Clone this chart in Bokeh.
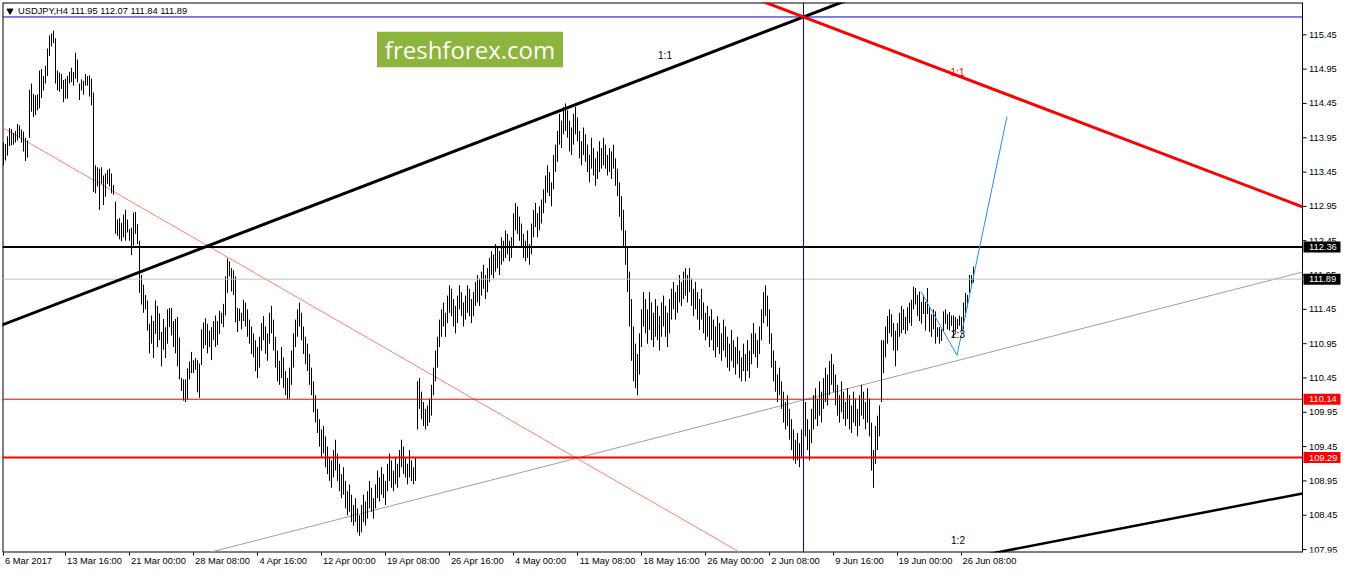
from bokeh.plotting import figure
from bokeh.models import Range1d, LinearAxis, FixedTicker
from bokeh.core.properties import value
from bokeh.embed import file_html
from bokeh.resources import INLINE

# ---------------- data ----------------
symbol = "USDJPY,H4"
last_ohlc = ["111.95", "112.07", "111.84", "111.89"]

bar_high = [
    113.88,113.86,113.97,114.09,114.08,114.02,114.05,114.15,114.13,114.07,
    114.04,113.95,113.91,114.65,114.74,114.59,114.57,114.58,114.93,114.95,
    114.85,115.00,115.25,115.44,115.47,115.51,115.40,114.93,114.90,114.88,
    114.79,114.81,114.85,114.91,114.97,114.91,115.19,115.09,114.74,114.80,
    114.78,114.88,114.85,114.86,114.81,114.61,113.55,113.52,113.50,113.52,
    113.40,113.43,113.48,113.50,113.43,113.26,113.02,112.76,112.78,112.71,
    112.83,
    112.90,112.76,112.62,112.64,112.86,112.87,112.69,112.45,111.95,111.81,
    111.66,111.58,111.24,111.36,111.28,111.58,111.50,111.39,111.12,111.31,
    111.19,111.45,111.47,111.47,111.28,111.31,111.34,111.04,110.45,110.43,
    110.43,110.59,110.69,110.83,110.71,110.74,110.71,110.66,111.16,111.26,
    111.32,111.24,111.14,111.19,111.28,111.36,111.28,111.43,111.40,111.53,
    111.93,112.19,112.15,112.05,112.02,111.93,111.47,111.46,111.40,111.59,
    111.55,111.45,111.30,111.20,111.10,111.00,110.90,111.05,111.25,111.35,
    111.20,111.10,111.40,111.50,111.30,111.05,110.85,110.70,110.90,110.75,
    110.55,110.45,110.60,110.85,111.10,111.30,111.45,111.55,111.40,111.20,
    111.05,110.95,110.80,110.60,110.40,110.20,110.00,109.85,109.70,109.75,
    109.60,109.45,109.30,109.25,109.40,109.55,109.35,109.20,109.05,109.15,
    108.95,108.80,108.90,108.75,108.60,108.70,108.55,108.45,108.60,108.75,
    108.65,108.80,108.95,108.85,108.70,108.90,109.10,109.00,109.15,109.05,
    108.95,109.20,109.35,109.25,109.10,109.30,109.20,109.40,109.55,109.45,
    109.30,109.20,109.40,109.25,109.15,109.30,110.40,110.45,110.25,110.10,
    110.00,110.05,110.15,110.35,110.60,110.85,111.05,111.30,111.45,111.55,
    111.40,111.65,111.80,111.75,111.60,111.50,111.65,111.80,111.70,111.55,
    111.65,111.80,111.75,111.60,111.70,111.85,111.95,111.90,112.00,112.10,
    111.95,112.05,112.20,112.30,112.25,112.40,112.35,112.30,112.50,112.45,
    112.60,112.55,112.45,112.50,112.85,113.00,112.95,112.80,112.70,112.55,
    112.45,112.60,112.40,112.70,112.90,113.00,112.85,112.95,113.05,113.20,
    113.40,113.55,113.45,113.30,113.70,113.85,114.05,114.30,114.20,114.40,
    114.45,114.35,114.20,114.10,114.30,114.40,114.25,114.05,113.90,114.10,
    114.00,113.85,113.70,113.95,113.80,113.65,113.75,113.90,113.80,113.95,
    113.85,113.70,113.80,113.75,113.85,113.65,113.50,113.30,113.10,112.90,
    112.60,112.35,112.00,111.60,111.20,110.95,110.80,111.10,111.45,111.70,
    111.60,111.45,111.70,111.55,111.40,111.60,111.50,111.35,111.55,111.65,
    111.50,111.40,111.60,111.75,111.85,111.70,111.80,111.95,111.85,112.00,
    112.05,111.95,112.05,111.90,111.75,111.85,111.70,111.60,111.75,111.55,
    111.40,111.50,111.35,111.45,111.30,111.20,111.35,111.25,111.10,111.30,
    111.20,111.05,110.95,111.15,111.00,110.90,111.05,110.85,110.75,110.95,
    110.80,111.00,110.85,111.10,111.25,111.10,111.00,111.20,111.45,111.70,
    111.80,111.65,111.45,111.10,110.85,110.70,110.50,110.60,110.40,110.25,
    110.10,110.20,110.00,109.85,109.70,109.55,109.65,109.50,109.70,109.95,
    110.10,109.85,109.70,110.00,110.20,110.30,110.15,110.40,110.25,110.45,
    110.60,110.50,110.70,110.80,110.65,110.50,110.35,110.20,110.40,110.25,
    110.10,110.30,110.20,110.05,110.25,110.15,110.00,110.20,110.35,110.25,
    110.10,110.30,110.15,109.80,109.40,109.75,109.90,110.05,111.00,
    111.00,111.20,111.35,111.45,111.38,111.25,111.14,111.25,111.40,111.50,
    111.45,111.34,111.48,111.55,111.59,111.78,111.76,111.66,111.71,111.56,
    111.66,111.56,111.76,111.48,111.38,111.45,111.42,111.19,111.19,111.16,
    111.42,111.45,111.38,111.41,111.36,111.36,111.34,111.31,111.36,111.34,
    111.55,111.69,111.66,111.95,111.95,112.07,
]

bar_low = [
    113.55,113.62,113.69,113.83,113.84,113.85,113.88,113.91,113.95,113.88,
    113.75,113.61,113.66,113.95,114.33,114.25,114.28,114.35,114.38,114.53,
    114.64,114.74,114.85,115.14,115.28,115.33,114.74,114.64,114.62,114.66,
    114.47,114.52,114.52,114.74,114.76,114.71,114.81,114.76,114.50,114.64,
    114.58,114.71,114.71,114.55,114.42,113.16,113.14,113.24,112.90,113.28,
    112.97,113.09,113.28,113.24,113.14,113.12,112.55,112.52,112.47,112.44,
    112.50,
    112.45,112.57,112.45,112.24,112.38,112.55,112.40,111.69,111.52,111.40,
    111.45,111.14,110.81,110.95,110.74,111.09,110.90,111.00,110.62,110.86,
    110.74,110.95,111.19,111.07,110.90,110.81,110.62,110.43,110.26,110.12,
    110.10,110.14,110.43,110.52,110.52,110.57,110.24,110.16,110.64,110.88,
    110.93,110.81,110.90,110.71,111.00,110.90,110.93,111.09,111.24,111.19,
    111.36,111.69,111.93,111.71,111.66,111.26,111.12,111.28,111.16,111.28,
    111.20,111.05,110.95,110.80,110.75,110.55,110.45,110.60,110.85,111.00,
    110.80,110.70,110.95,111.10,110.85,110.60,110.40,110.35,110.45,110.30,
    110.20,110.14,110.15,110.35,110.60,110.90,111.05,111.20,111.00,110.80,
    110.65,110.55,110.35,110.20,109.95,109.80,109.65,109.45,109.30,109.35,
    109.15,109.05,108.95,108.85,109.00,109.10,108.95,108.80,108.70,108.75,
    108.55,108.45,108.50,108.35,108.30,108.35,108.20,108.15,108.20,108.35,
    108.30,108.40,108.55,108.50,108.40,108.55,108.70,108.65,108.75,108.70,
    108.60,108.80,108.95,108.85,108.80,108.90,108.85,109.00,109.15,109.05,
    109.00,108.90,109.00,108.95,108.90,108.95,109.70,110.00,109.85,109.75,
    109.70,109.75,109.80,109.90,110.20,110.40,110.60,110.90,111.05,111.20,
    111.05,111.25,111.40,111.35,111.20,111.10,111.25,111.45,111.35,111.20,
    111.30,111.40,111.35,111.25,111.35,111.50,111.55,111.50,111.65,111.75,
    111.60,111.70,111.85,111.95,111.90,112.00,112.05,111.95,112.10,112.15,
    112.20,112.25,112.15,112.20,112.35,112.60,112.55,112.45,112.35,112.20,
    112.15,112.20,112.10,112.25,112.50,112.65,112.50,112.60,112.70,112.85,
    113.00,113.15,113.10,112.95,113.20,113.45,113.60,113.85,113.80,114.00,
    114.05,113.95,113.75,113.70,113.85,114.00,113.90,113.65,113.55,113.70,
    113.60,113.45,113.30,113.50,113.40,113.25,113.35,113.45,113.50,113.55,
    113.50,113.40,113.45,113.35,113.50,113.25,113.10,112.80,112.60,112.35,
    112.10,111.70,111.20,110.70,110.40,110.30,110.20,110.50,110.90,111.20,
    111.10,110.95,111.15,111.00,110.90,111.05,111.00,110.85,111.05,111.20,
    111.05,110.90,111.10,111.30,111.45,111.30,111.40,111.55,111.50,111.60,
    111.65,111.55,111.70,111.50,111.35,111.45,111.30,111.15,111.30,111.10,
    111.00,111.05,110.90,111.00,110.85,110.75,110.90,110.80,110.70,110.85,
    110.75,110.60,110.55,110.70,110.60,110.50,110.65,110.45,110.40,110.55,
    110.40,110.55,110.45,110.65,110.80,110.75,110.60,110.80,111.00,111.25,
    111.35,111.20,110.95,110.60,110.40,110.25,110.10,110.20,110.00,109.80,
    109.70,109.75,109.55,109.40,109.25,109.20,109.25,109.15,109.30,109.45,
    109.60,109.40,109.25,109.50,109.70,109.85,109.75,109.90,109.80,110.00,
    110.10,110.05,110.20,110.35,110.25,110.05,109.90,109.80,109.95,109.85,
    109.75,109.85,109.70,109.65,109.80,109.75,109.60,109.75,109.90,109.85,
    109.70,109.80,109.60,109.10,108.85,109.20,109.40,109.60,110.10,
    110.52,110.75,110.95,111.10,111.05,110.85,110.62,110.85,111.05,111.10,
    111.15,111.09,111.14,111.25,111.21,111.45,111.52,111.35,111.28,111.24,
    111.38,111.14,111.38,111.12,111.05,111.16,110.95,111.05,110.95,110.99,
    111.12,111.24,111.16,111.14,111.21,111.05,111.14,111.16,111.21,111.14,
    111.16,111.34,111.48,111.69,111.81,111.84,
]

bar_index = list(range(len(bar_high)))

date_tick_bars = [0, 31, 63, 95, 127, 159, 191, 223, 255, 287, 319, 351, 383, 415, 447, 479]
date_tick_labels = ["6 Mar 2017", "13 Mar 16:00", "21 Mar 00:00", "28 Mar 08:00", "4 Apr 16:00",
                    "12 Apr 00:00", "19 Apr 08:00", "26 Apr 16:00", "4 May 00:00", "11 May 08:00",
                    "18 May 16:00", "26 May 00:00", "2 Jun 08:00", "9 Jun 16:00", "19 Jun 00:00",
                    "26 Jun 08:00"]

price_ticks = [107.95, 108.45, 108.95, 109.45, 109.95, 110.45, 110.95, 111.45,
               111.95, 112.45, 112.95, 113.45, 113.95, 114.45, 114.95, 115.45]
price_tick_labels = ["107.95", "108.45", "108.95", "109.45", "109.95", "110.45", "110.95", "111.45",
                     "111.95", "112.45", "112.95", "113.45", "113.95", "114.45", "114.95", "115.45"]

# horizontal levels
level_prices = [112.36, 111.89, 110.14, 109.29]
level_labels = ["112.36", "111.89", "110.14", "109.29"]
level_colors = ["black", "#C0C0C0", "red", "red"]
level_widths = [2, 1, 1, 2]
tag_colors = ["black", "black", "red", "red"]

# Gann fan origin (bar index, price)
gann_bar = 400
gann_price = 115.71

# trend lines given by two anchor points (bar, price) and the bar where they start
fan_up = (0, 111.23, 400, 115.71, -1)
fan_down = (400, 115.71, 657, 112.86, 375)
low_fan = (490, 107.87, 657, 108.81, 470)
gray_trend = (451, 110.51, 657, 112.05, 60)
salmon_trend = (0, 114.09, 367, 107.93, -1)

forecast_bar = [458.75, 476.75, 501.75]
forecast_price = [111.71, 110.78, 114.26]

ratio_text = ["1:1", "1:2", "2:3"]
ratio_bar = [330.75, 477.25, 477.25]
ratio_price = [115.15, 108.08, 111.09]
red_ratio_text = ["1:1"]
red_ratio_bar = [477.0]
red_ratio_price = [114.90]

# ---------------- layout ----------------
FONT = "Liberation Sans"
FS = "9.3px"
FS_NUM = 9.3
W, H = 1342, 568
B_LEFT, B_TOP, B_BOTTOM = 2, 2, 16
FRAME_W = W - B_LEFT
FRAME_H = H - B_TOP - B_BOTTOM
PXB = 2.0                       # pixels per bar
X0 = -0.5
X1 = X0 + FRAME_W / PXB
X_EDGE = X0 + 1300 / PXB        # right edge of the chart area; price scale beyond it
Y0, Y1 = 107.907, 115.921
PPX = (Y1 - Y0) / FRAME_H       # price per pixel

p = figure(width=W, height=H, x_range=Range1d(X0, X1), y_range=Range1d(Y0, Y1),
           x_axis_location=None, y_axis_location=None, toolbar_location=None,
           output_backend="svg", min_border_left=B_LEFT, min_border_top=B_TOP,
           min_border_right=0, min_border_bottom=B_BOTTOM)
p.outline_line_color = None
p.background_fill_color = "white"
p.border_fill_color = "white"
for g in p.grid:
    g.visible = False

# bottom time axis: labels start at their tick mark (MT4 style)
CW = {c: 0.556 for c in "0123456789"}
CW.update({" ": 0.278, ":": 0.278, ".": 0.278, "M": 0.833, "a": 0.556, "r": 0.333,
           "A": 0.667, "p": 0.556, "y": 0.5, "J": 0.5, "u": 0.556, "n": 0.556})


def text_w(s):
    return sum(CW.get(c, 0.556) for c in s) * FS_NUM


label_centers = [round(2 * (b + (1.5 + text_w(s) / 2) / PXB)) / 2
                 for b, s in zip(date_tick_bars, date_tick_labels)]
xaxis = LinearAxis(ticker=FixedTicker(ticks=label_centers, minor_ticks=date_tick_bars),
                   major_label_overrides={c: s for c, s in zip(label_centers, date_tick_labels)})
xaxis.axis_line_color = None
xaxis.major_tick_line_color = None
xaxis.major_tick_out = 3
xaxis.major_tick_in = 0
xaxis.minor_tick_line_color = "black"
xaxis.minor_tick_out = 3
xaxis.minor_tick_in = 0
xaxis.major_label_standoff = 0
xaxis.major_label_text_font = FONT
xaxis.major_label_text_font_size = FS
xaxis.major_label_text_color = "black"
p.add_layout(xaxis, "below")

# chart frame edges (width-2 lines on the frame border are half clipped -> 1px)
p.segment(x0=[X0, X0, X0], y0=[Y0, Y1, Y0], x1=[X0, X_EDGE, X_EDGE], y1=[Y1, Y1, Y0],
          line_color="black", line_width=2)
p.segment(x0=[X_EDGE], y0=[Y0], x1=[X_EDGE], y1=[Y1], line_color="black", line_width=1)

# price scale on the right
p.segment(x0=[X_EDGE] * len(price_ticks), y0=price_ticks,
          x1=[X_EDGE + 4 / PXB] * len(price_ticks), y1=price_ticks, line_color="black", line_width=1)
p.text(x=[X_EDGE + 6.5 / PXB] * len(price_ticks), y=price_ticks, text=price_tick_labels,
       text_align="left", text_baseline="middle", text_color="black",
       text_font=value(FONT), text_font_size=FS)

# logo watermark
p.quad(left=[186.75], right=[279.75], top=[115.493], bottom=[114.979],
       fill_color="#8DB43C", line_color=None)
p.text(x=[233.25], y=[115.236], text=["freshforex.com"], text_align="center",
       text_baseline="middle", text_color="white", text_font=value("Open Sans"),
       text_font_size="24px")


def extend(line, x_end):
    a, pa, b, pb, x_start = line
    k = (pb - pa) / (b - a)
    return [x_start, x_end], [pa + k * (x_start - a), pa + k * (x_end - a)]


# thin diagonal lines
sx, sy = extend(salmon_trend, 420)
p.line(x=sx, y=sy, line_color="#FA8072", line_width=1)
gx, gy = extend(gray_trend, X_EDGE)
p.line(x=gx, y=gy, line_color="#A0A0A0", line_width=1)

# bars (high-low)
p.segment(x0=bar_index, y0=bar_low, x1=bar_index, y1=bar_high, line_color="black", line_width=1)

# horizontal levels
n_lv = len(level_prices)
p.segment(x0=[X0] * n_lv, y0=level_prices, x1=[X_EDGE] * n_lv, y1=level_prices,
          line_color=level_colors, line_width=level_widths)
# gann origin lines
p.segment(x0=[X0], y0=[gann_price], x1=[X_EDGE], y1=[gann_price], line_color="#0000CD", line_width=1)
p.segment(x0=[gann_bar], y0=[Y0], x1=[gann_bar], y1=[Y1], line_color="#0000CD", line_width=1)

# fan lines
ux, uy = extend(fan_up, 440)
p.line(x=ux, y=uy, line_color="black", line_width=3)
dx, dy = extend(fan_down, X_EDGE)
p.line(x=dx, y=dy, line_color="red", line_width=3)
lx, ly = extend(low_fan, X_EDGE)
p.line(x=lx, y=ly, line_color="black", line_width=2.5)

# forecast path
p.line(x=forecast_bar, y=forecast_price, line_color="#1E90FF", line_width=1)

# ratio texts
p.text(x=ratio_bar, y=ratio_price, text=ratio_text, text_align="center", text_baseline="middle",
       text_color="black", text_font=value(FONT), text_font_size="10px")
p.text(x=red_ratio_bar, y=red_ratio_price, text=red_ratio_text, text_align="center",
       text_baseline="middle", text_color="red", text_font=value(FONT), text_font_size="10px")

# header
p.scatter(x=[3.25], y=[115.80], marker="inverted_triangle", size=6, color="black")
p.text(x=[7.25], y=[115.80], text=[symbol + " " + " ".join(last_ohlc)], text_align="left",
       text_baseline="middle", text_color="black", text_font=value(FONT), text_font_size=FS)

# price tags on the price scale
p.quad(left=[X_EDGE + 1 / PXB] * n_lv, right=[X_EDGE + 38 / PXB] * n_lv,
       top=[v + 5.5 * PPX for v in level_prices], bottom=[v - 5.5 * PPX for v in level_prices],
       fill_color=tag_colors, line_color=None)
p.text(x=[X_EDGE + 6.5 / PXB] * n_lv, y=level_prices, text=level_labels, text_align="left",
       text_baseline="middle", text_color="white", text_font=value(FONT), text_font_size=FS)

open("out.html", "w").write(file_html(p, INLINE))
